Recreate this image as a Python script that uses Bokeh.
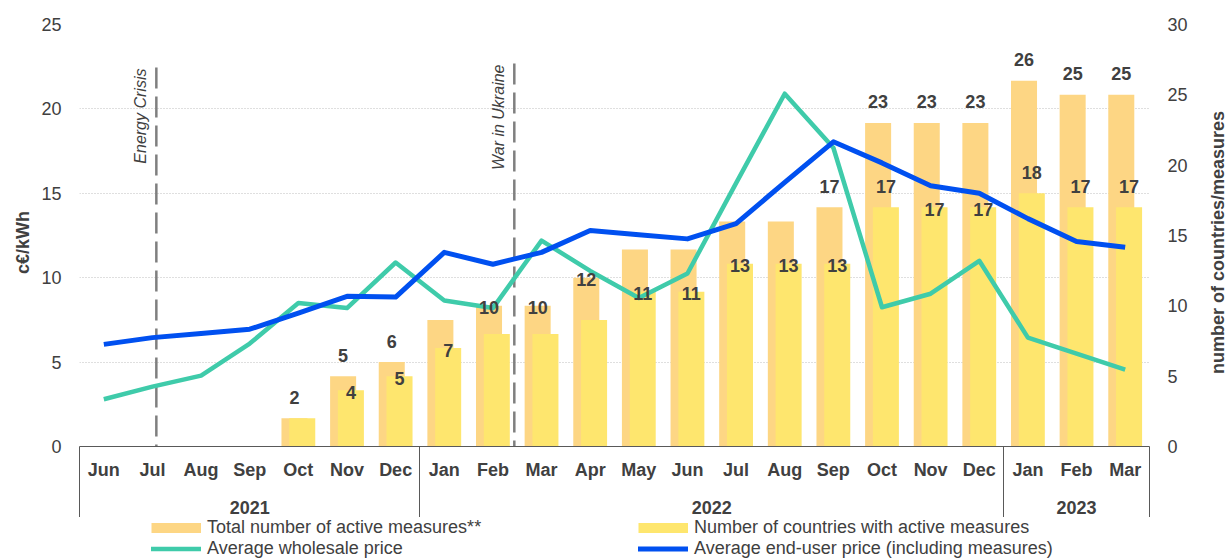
import math
from bokeh.plotting import figure
from bokeh.layouts import column, row
from bokeh.models import (ColumnDataSource, Range1d, LinearAxis, FixedTicker,
                          Legend, LegendItem)
from bokeh.core.properties import value
from bokeh.embed import file_html
from bokeh.resources import INLINE

# ---------------- data ----------------
months = ["Jun", "Jul", "Aug", "Sep", "Oct", "Nov", "Dec",
          "Jan", "Feb", "Mar", "Apr", "May", "Jun", "Jul", "Aug", "Sep", "Oct", "Nov", "Dec",
          "Jan", "Feb", "Mar"]
years = ["2021", "2022", "2023"]
months_per_year = [7, 12, 3]

total_measures = [0, 0, 0, 0, 2, 5, 6, 9, 10, 10, 12, 14, 14, 16, 16, 17, 23, 23, 23, 26, 25, 25]
countries_with_measures = [0, 0, 0, 0, 2, 4, 5, 7, 8, 8, 9, 11, 11, 13, 13, 13, 17, 17, 17, 18, 17, 17]
wholesale_price = [2.8, 3.55, 4.2, 6.1, 8.5, 8.2, 10.9, 8.65, 8.2, 12.2, 10.4, 8.8, 10.25,
                   15.6, 20.9, 17.7, 8.25, 9.05, 11.0, 6.45, 5.5, 4.55]
end_user_price = [6.05, 6.45, 6.7, 6.95, 7.9, 8.9, 8.85, 11.5, 10.8, 11.5, 12.8, 12.55, 12.3,
                  13.2, 15.65, 18.05, 16.8, 15.45, 15.0, 13.5, 12.15, 11.8]

# which data labels are shown, and where (style)
total_label_style = [None, None, None, None, "above", "above", "above", None, "inside", "inside",
                     "inside", None, None, None, None, "above", "above", "above", "above",
                     "above", "above", "above"]
countries_label_style = [None, None, None, None, None, "inside", "inside", "inside", None, None,
                         None, "inside", "inside", "inside", "inside", "inside", "above",
                         "inside", "inside", "above", "above", "above"]

events = ["Energy Crisis", "War in Ukraine"]
event_pos = [1.58, 8.94]          # position on the month scale
event_top = [22.45, 22.69]        # c€/kWh

left_ticks = [0, 5, 10, 15, 20, 25]
right_ticks = [0, 5, 10, 15, 20, 25, 30]

left_title = "c€/kWh"
right_title = "number of countries/measures"
legend_labels = ["Total number of active measures**",
                 "Number of countries with active measures",
                 "Average wholesale price",
                 "Average end-user price (including measures)"]

# ---------------- style ----------------
FONT = "Liberation Sans"
TXT = "#404040"
ORANGE = "#FDD684"
YELLOW = "#FEE66E"
TEAL = "#3FCBAA"
BLUE = "#0050F0"
AXIS = "#595959"

LEFT_W = 34     # strip holding the left axis title
RIGHT_W = 26    # strip holding the right axis title
MAIN_W = 1228 - LEFT_W - RIGHT_W

n = len(months)
xc = [i + 0.5 for i in range(n)]
x_tot = [c - 0.08 for c in xc]
x_cnt = [c + 0.08 for c in xc]

p = figure(width=MAIN_W, height=517, output_backend="svg", toolbar_location=None,
           x_range=Range1d(0, n), y_range=Range1d(0, 25),
           min_border_left=79 - LEFT_W, min_border_right=1228 - RIGHT_W - 1149,
           min_border_top=24, min_border_bottom=71)
p.outline_line_color = None
p.background_fill_color = "white"
p.extra_y_ranges = {"right": Range1d(0, 30)}

src = ColumnDataSource(dict(x=xc, xt=x_tot, xn=x_cnt, total=total_measures,
                            countries=countries_with_measures,
                            ws=wholesale_price, eu=end_user_price))

p.vbar(x="xt", top="total", width=0.535, source=src, y_range_name="right",
       fill_color=ORANGE, line_color=None)
p.vbar(x="xn", top="countries", width=0.535, source=src, y_range_name="right",
       fill_color=YELLOW, line_color=None)

# event markers
p.segment(x0=event_pos, y0=event_top, x1=event_pos, y1=[0] * len(events),
          line_color="#7F7F7F", line_width=2.5, line_dash="21 8")
p.text(x=event_pos, y=event_top, text=events, angle=math.pi / 2,
       text_align="right", text_baseline="middle", x_offset=-16, y_offset=1,
       text_font=value(FONT), text_font_style="italic", text_font_size="16px",
       text_color=TXT)

p.line(x="x", y="ws", source=src, line_color=TEAL, line_width=4.5, line_join="round")
p.line(x="x", y="eu", source=src, line_color=BLUE, line_width=5, line_join="round")

# data labels
offsets = {"above": -21, "inside": 2}
lx, ly, lt, lo = [], [], [], []
for xs, vals, styles in ((x_tot, total_measures, total_label_style),
                         (x_cnt, countries_with_measures, countries_label_style)):
    for xv, v, s in zip(xs, vals, styles):
        if s is None:
            continue
        lx.append(xv)
        ly.append(v)
        lt.append(str(v))
        lo.append(offsets[s])
lsrc = ColumnDataSource(dict(x=lx, y=ly, t=lt, o=lo))
p.text(x="x", y="y", text="t", y_offset="o", source=lsrc, y_range_name="right",
       text_align="center", text_baseline="middle",
       text_font=value(FONT), text_font_style="bold", text_font_size="18px",
       text_color=TXT)

# ---------------- axes ----------------
bounds = [0]
for m in months_per_year:
    bounds.append(bounds[-1] + m)

xa = p.xaxis[0]
xa.ticker = FixedTicker(ticks=xc, minor_ticks=bounds)
xa.major_label_overrides = {c: m for c, m in zip(xc, months)}
xa.major_tick_out = 0
xa.major_tick_in = 0
xa.minor_tick_out = 0
xa.minor_tick_in = -72          # separators drawn downward, below the axis line
xa.minor_tick_line_color = AXIS
xa.axis_line_color = AXIS
xa.major_label_standoff = 13
xa.major_label_text_font = FONT
xa.major_label_text_font_style = "bold"
xa.major_label_text_font_size = "18px"
xa.major_label_text_color = TXT

year_centers = [(a + b) / 2 for a, b in zip(bounds[:-1], bounds[1:])]
ya2 = LinearAxis(ticker=FixedTicker(ticks=year_centers),
                 major_label_overrides={c: y for c, y in zip(year_centers, years)})
ya2.axis_line_color = None
ya2.major_tick_line_color = None
ya2.minor_tick_line_color = None
ya2.major_tick_out = 0
ya2.major_tick_in = 0
ya2.major_label_standoff = 18
ya2.major_label_text_font = FONT
ya2.major_label_text_font_style = "bold"
ya2.major_label_text_font_size = "18px"
ya2.major_label_text_color = TXT
p.add_layout(ya2, "below")

ly_ax = p.yaxis[0]
ly_ax.ticker = FixedTicker(ticks=left_ticks)
ly_ax.axis_line_color = None
ly_ax.major_tick_line_color = None
ly_ax.minor_tick_line_color = None
ly_ax.major_tick_out = 0
ly_ax.major_tick_in = 0
ly_ax.major_label_standoff = 18
ly_ax.major_label_text_font = FONT
ly_ax.major_label_text_font_size = "18px"
ly_ax.major_label_text_color = TXT

ra = LinearAxis(y_range_name="right", ticker=FixedTicker(ticks=right_ticks))
ra.axis_line_color = None
ra.major_tick_line_color = None
ra.minor_tick_line_color = None
ra.major_tick_out = 0
ra.major_tick_in = 0
ra.major_label_standoff = 18
ra.major_label_text_font = FONT
ra.major_label_text_font_size = "18px"
ra.major_label_text_color = TXT
p.add_layout(ra, "right")

p.xgrid.visible = False
p.ygrid.ticker = FixedTicker(ticks=left_ticks)
p.ygrid.grid_line_color = "#BFBFBF"
p.ygrid.grid_line_dash = "1 2"
p.ygrid.grid_line_width = 1


# ---------------- axis titles (own narrow strips, read bottom-to-top) ----------------
def title_strip(text, width, b_left, b_right, b_top, b_bottom):
    f = figure(width=width, height=560, output_backend="svg", toolbar_location=None,
               x_range=Range1d(0, 1), y_range=Range1d(0, 1),
               min_border_left=b_left, min_border_right=b_right,
               min_border_top=b_top, min_border_bottom=b_bottom,
               x_axis_location=None, y_axis_location=None)
    f.outline_line_color = None
    f.grid.visible = False
    f.text(x=[0.5], y=[0.5], text=[text], angle=math.pi / 2,
           text_align="center", text_baseline="middle",
           text_font=value(FONT), text_font_style="bold", text_font_size="18px",
           text_color=TXT)
    return f


pt_left = title_strip(left_title, LEFT_W, 12, 2, 24, 56)
pt_right = title_strip(right_title, RIGHT_W, 4, 0, 24, 100)

# ---------------- legend (own strip below the chart) ----------------
pl = figure(width=MAIN_W, height=43, output_backend="svg", toolbar_location=None,
            x_range=Range1d(0, 1), y_range=Range1d(0, 1),
            min_border_left=0, min_border_right=0, min_border_top=0, min_border_bottom=0,
            x_axis_location=None, y_axis_location=None)
pl.outline_line_color = None
pl.grid.visible = False

nan = [float("nan")]
leg_tot = pl.line(x=nan, y=nan, line_color=ORANGE, line_width=10)
leg_cnt = pl.line(x=nan, y=nan, line_color=YELLOW, line_width=10)
leg_ws = pl.line(x=nan, y=nan, line_color=TEAL, line_width=4.5, line_cap="round")
leg_eu = pl.line(x=nan, y=nan, line_color=BLUE, line_width=5, line_cap="round")

legend = Legend(items=[LegendItem(label=lab, renderers=[r]) for lab, r in
                       zip(legend_labels, [leg_tot, leg_cnt, leg_ws, leg_eu])],
                location=(72, 1), orientation="horizontal", ncols=2,
                glyph_width=50, glyph_height=21, label_height=21, label_width=431,
                label_standoff=6, spacing=0, padding=0, margin=0,
                border_line_color=None, background_fill_alpha=0,
                label_text_font=FONT, label_text_font_size="18px", label_text_color=TXT)
pl.add_layout(legend)

layout = row(pt_left, column(p, pl, spacing=0), pt_right, spacing=0)
open("out.html", "w").write(file_html(layout, INLINE))
